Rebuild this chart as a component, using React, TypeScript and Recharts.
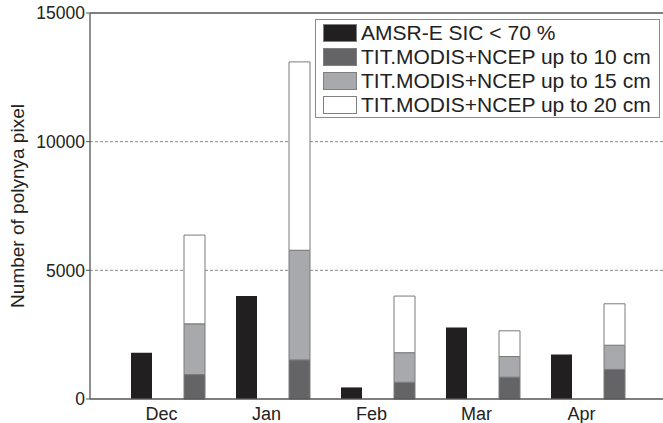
import React from "react";
import { BarChart, Bar, XAxis, YAxis, CartesianGrid, Legend, ReferenceLine } from "recharts";

const months = ["Dec", "Jan", "Feb", "Mar", "Apr"];
// AMSR-E SIC < 70 % pixel counts
const amsrSic70 = [1800, 4000, 450, 2780, 1730];
// TIT.MODIS+NCEP cumulative counts
const upTo10 = [950, 1520, 650, 850, 1150];
const upTo15 = [2920, 5780, 1800, 1650, 2090];
const upTo20 = [6370, 13100, 4000, 2650, 3700];
const yTicks = [0, 5000, 10000, 15000];

const data = months.map((m, i) => ({
  month: m,
  amsr: amsrSic70[i],
  d10: upTo10[i],
  d15: upTo15[i] - upTo10[i],
  d20: upTo20[i] - upTo15[i],
}));

const FONT = "'Liberation Sans', Arial, sans-serif";
const AXIS = "#555";

const renderLegend = (props: any) => {
  const { payload } = props;
  return (
    <div
      style={{
        boxSizing: "border-box",
        width: 345,
        border: "1px solid #8a8a8a",
        background: "#fff",
        padding: "1px 0 0 7px",
        fontFamily: FONT,
        fontSize: 21,
        color: "#222",
      }}
    >
      {payload.map((entry: any) => (
        <div key={entry.value} style={{ display: "flex", alignItems: "center", height: 24 }}>
          <span
            style={{
              boxSizing: "border-box",
              width: 34,
              height: 18.5,
              background: entry.color,
              border: "1px solid #808080",
              marginRight: 4,
            }}
          />
          <span style={{ lineHeight: "24px", whiteSpace: "nowrap" }}>{entry.value}</span>
        </div>
      ))}
    </div>
  );
};

export default function App() {
  return (
    <div style={{ position: "absolute", left: 0, top: 0, background: "#fff" }}>
      <BarChart
        width={663}
        height={423}
        data={data}
        margin={{ top: 13, right: 0, bottom: 0, left: 0 }}
        barSize={21}
        barGap={32}
      >
        <CartesianGrid
          vertical={false}
          horizontalValues={[5000, 10000]}
          stroke="#8a8a8a"
          strokeDasharray="3 2"
        />
        <ReferenceLine y={15000} stroke={AXIS} strokeWidth={1.3} />
        <XAxis
          dataKey="month"
          height={24}
          padding={{ left: 25, right: 23 }}
          tickLine={false}
          tickSize={6}
          tickMargin={2}
          axisLine={{ stroke: AXIS, strokeWidth: 1.3 }}
          tick={{ fontSize: 18, fill: "#222", fontFamily: FONT, dx: -6 }}
        />
        <YAxis
          width={90}
          domain={[0, 15000]}
          ticks={yTicks}
          interval={0}
          tickSize={4}
          tickMargin={1}
          axisLine={{ stroke: AXIS, strokeWidth: 1.3 }}
          tickLine={{ stroke: AXIS }}
          tick={{ fontSize: 17.5, fill: "#222", fontFamily: FONT }}
          label={{
            content: ({ viewBox }: any) => {
              const cx = viewBox.x + 17;
              const cy = viewBox.y + viewBox.height / 2;
              return (
                <text
                  x={cx}
                  y={cy}
                  transform={`rotate(-90 ${cx} ${cy})`}
                  textAnchor="middle"
                  dominantBaseline="central"
                  fontSize={19}
                  fontFamily={FONT}
                  fill="#222"
                >
                  Number of polynya pixel
                </text>
              );
            },
          }}
        />
        <Legend
          layout="vertical"
          align="center"
          verticalAlign="middle"
          content={renderLegend}
          wrapperStyle={{ left: 315, top: 19, width: 345 }}
        />
        <Bar
          dataKey="amsr"
          name="AMSR-E SIC < 70 %"
          stackId="amsr"
          fill="#221f20"
          isAnimationActive={false}
        />
        <Bar
          dataKey="d10"
          name="TIT.MODIS+NCEP up to 10 cm"
          stackId="tit"
          fill="#646466"
          stroke="#7a7a7a"
          strokeWidth={1}
          isAnimationActive={false}
        />
        <Bar
          dataKey="d15"
          name="TIT.MODIS+NCEP up to 15 cm"
          stackId="tit"
          fill="#a8a9ac"
          stroke="#7a7a7a"
          strokeWidth={1}
          isAnimationActive={false}
        />
        <Bar
          dataKey="d20"
          name="TIT.MODIS+NCEP up to 20 cm"
          stackId="tit"
          fill="#ffffff"
          stroke="#7a7a7a"
          strokeWidth={1}
          isAnimationActive={false}
        />
      </BarChart>
    </div>
  );
}
